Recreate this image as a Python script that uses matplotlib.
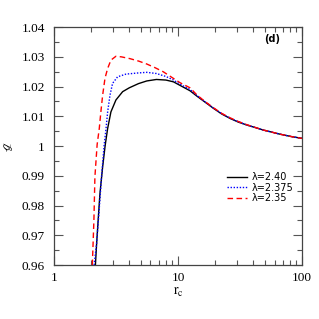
import numpy as np
import matplotlib
matplotlib.use('Agg')
import matplotlib.pyplot as plt
from matplotlib.ticker import LogLocator, FormatStrFormatter, MultipleLocator, NullFormatter

# curves (r_c, g)
r_240 = [2.16, 2.21, 2.28, 2.35, 2.47, 2.59, 2.71, 2.88, 3.16, 3.58, 4.05, 4.8, 5.6, 6.7, 8.0,
         9.2, 10.4, 12.5, 14.2, 16.5, 19.3, 22.5, 26.3, 30.5, 35.8, 48.7, 66.5, 82, 100]
g_240 = [0.960, 0.9673, 0.976, 0.9841, 0.993, 1.0003, 1.0059, 1.0115, 1.0155, 1.0183, 1.0196,
         1.0210, 1.0219, 1.0224, 1.0222, 1.0216, 1.0204, 1.0186, 1.0168, 1.0148, 1.0127, 1.0108,
         1.0093, 1.0081, 1.0071, 1.0054, 1.0040, 1.0032, 1.0026]

r_2375 = [2.11, 2.21, 2.31, 2.42, 2.54, 2.63, 2.71, 2.83, 2.97, 3.26, 3.81, 4.8, 5.6, 6.7, 8.0,
          9.2, 10.4, 12.5, 14.2, 16.5, 19.3, 22.5, 26.3, 30.5, 35.8, 48.7, 66.5, 82, 100]
g_2375 = [0.960, 0.9674, 0.978, 0.9897, 1.0003, 1.0059, 1.0115, 1.0171, 1.0211, 1.0233, 1.0242,
          1.0246, 1.0248, 1.0244, 1.0234, 1.0222, 1.0208, 1.0190, 1.0170, 1.0149, 1.0128, 1.0109,
          1.0094, 1.0082, 1.0071, 1.0054, 1.0040, 1.0032, 1.0026]

r_235 = [2.04, 2.10, 2.14, 2.23, 2.32, 2.39, 2.47, 2.58, 2.71, 2.88, 3.16, 3.5, 4.1, 4.8, 5.6,
         6.5, 7.6, 9.0, 10.4, 12.5, 14.2, 16.5, 19.3, 22.5, 26.3, 30.5, 35.8, 48.7, 66.5, 82, 100]
g_235 = [0.960, 0.975, 0.9897, 1.0005, 1.0059, 1.0115, 1.0171, 1.0228, 1.0261, 1.0289, 1.0302,
         1.0300, 1.0294, 1.0286, 1.0276, 1.0264, 1.0250, 1.0230, 1.0213, 1.0196, 1.0172, 1.0150,
         1.0129, 1.0110, 1.0095, 1.0083, 1.0072, 1.0054, 1.0040, 1.0032, 1.0026]

labels = ['λ=2.40', 'λ=2.375', 'λ=2.35']

plt.rcParams['mathtext.fontset'] = 'stix'

fig = plt.figure(figsize=(3.19, 3.19), dpi=100)
ax = fig.add_axes([0.169, 0.169, 0.778, 0.746])

ax.plot(r_240, g_240, color='black', lw=1.0, label=labels[0])
ax.plot(r_2375, g_2375, color='blue', lw=1.0, ls=(0, (1, 1.2)), label=labels[1])
ax.plot(r_235, g_235, color='red', lw=1.0, ls=(0, (4, 2.5)), label=labels[2])

ax.set_xscale('log')
ax.set_xlim(1, 100)
ax.set_ylim(0.96, 1.04)

ax.xaxis.set_major_locator(LogLocator(base=10))
ax.xaxis.set_minor_locator(LogLocator(base=10, subs=np.arange(2, 10)))
ax.xaxis.set_major_formatter(FormatStrFormatter('%g'))
ax.xaxis.set_minor_formatter(NullFormatter())
ax.yaxis.set_major_locator(MultipleLocator(0.01))
ax.yaxis.set_minor_locator(MultipleLocator(0.005))
ax.yaxis.set_major_formatter(FormatStrFormatter('%g'))

ax.tick_params(which='both', direction='in', top=True, right=True, color='#555555')
ax.tick_params(which='major', length=6.5, width=0.8)
ax.tick_params(which='minor', length=3.6, width=0.8)
ax.tick_params(axis='y', pad=6.5)
ax.tick_params(axis='x', pad=5)
for lab in ax.get_xticklabels() + ax.get_yticklabels():
    lab.set_fontfamily('Liberation Serif')
    lab.set_fontsize(9.5)
for s in ax.spines.values():
    s.set_color('#444444')
    s.set_linewidth(0.9)

ax.set_xlabel(r'$\mathrm{r_c}$', fontsize=10, labelpad=1)
fig.text(7 / 319, 1 - 146 / 319, 'ℊ', rotation=90, ha='center', va='center',
         fontsize=9, family=['STIXGeneral', 'DejaVu Sans'])

ax.text(0.88, 0.948, '(d)', transform=ax.transAxes, ha='center', va='center',
        fontsize=7, fontweight='bold', family='DejaVu Sans')

ax.legend(loc='upper left', bbox_to_anchor=(0.696, 0.39), frameon=False, borderpad=0,
          borderaxespad=0, handlelength=2.06, handletextpad=0.51, labelspacing=0.05,
          prop={'family': 'DejaVu Sans', 'size': 7})

fig.savefig('out.png', dpi=100)
